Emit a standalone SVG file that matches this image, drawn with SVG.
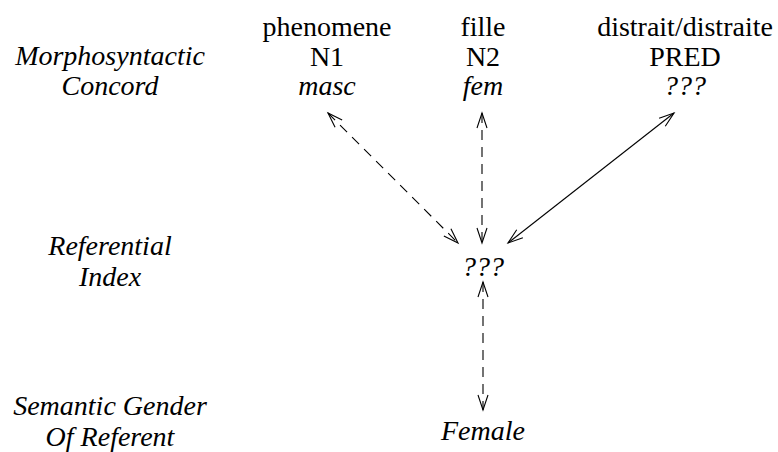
<svg xmlns="http://www.w3.org/2000/svg" width="778" height="452" viewBox="0 0 778 452">
<defs>
<style>
text{font-size:28px;fill:#000;text-anchor:middle}
.i{font-style:italic}
.c{fill:none;stroke:#000;stroke-width:1.1}
.d{stroke-dasharray:10,7}
</style>
<marker id="ah" markerUnits="userSpaceOnUse" markerWidth="20" markerHeight="14" viewBox="-16 -7 18 14" refX="0" refY="0" orient="auto-start-reverse">
<path d="M-15,-5 L0,0 L-15,5" fill="none" stroke="#000" stroke-width="1.1"/>
</marker>
</defs>
<rect width="778" height="452" fill="#fff"/>
<g font-family="Liberation Serif, Times New Roman, serif">
<g id="label-morpho"><text class="i" x="110" y="65">Morphosyntactic</text><text class="i" x="110" y="95">Concord</text></g>
<g id="label-ref"><text class="i" x="110" y="255">Referential</text><text class="i" x="110" y="286">Index</text></g>
<g id="label-sem"><text class="i" x="110" y="415">Semantic Gender</text><text class="i" x="110" y="446">Of Referent</text></g>
<g id="n1"><text x="327" y="36">phenomene</text><text x="327" y="66">N1</text><text class="i" x="327" y="95">masc</text></g>
<g id="n2"><text x="483" y="36">fille</text><text x="483" y="66">N2</text><text class="i" x="483" y="95">fem</text></g>
<g id="pred"><text x="685" y="36">distrait/distraite</text><text x="685" y="66">PRED</text><text class="i" x="685" y="95">???</text></g>
<g id="refidx"><text class="i" x="483" y="276">???</text></g>
<g id="female"><text class="i" x="483" y="440">Female</text></g>
</g>
<g id="connectors">
<line class="c d" x1="328" y1="113" x2="458" y2="243" marker-start="url(#ah)" marker-end="url(#ah)"/>
<line class="c d" x1="482" y1="113" x2="482" y2="243" marker-start="url(#ah)" marker-end="url(#ah)"/>
<line class="c" x1="674" y1="113" x2="508" y2="243" marker-start="url(#ah)" marker-end="url(#ah)"/>
<line class="c d" x1="483" y1="282" x2="483" y2="410" marker-start="url(#ah)" marker-end="url(#ah)"/>
</g>
</svg>
